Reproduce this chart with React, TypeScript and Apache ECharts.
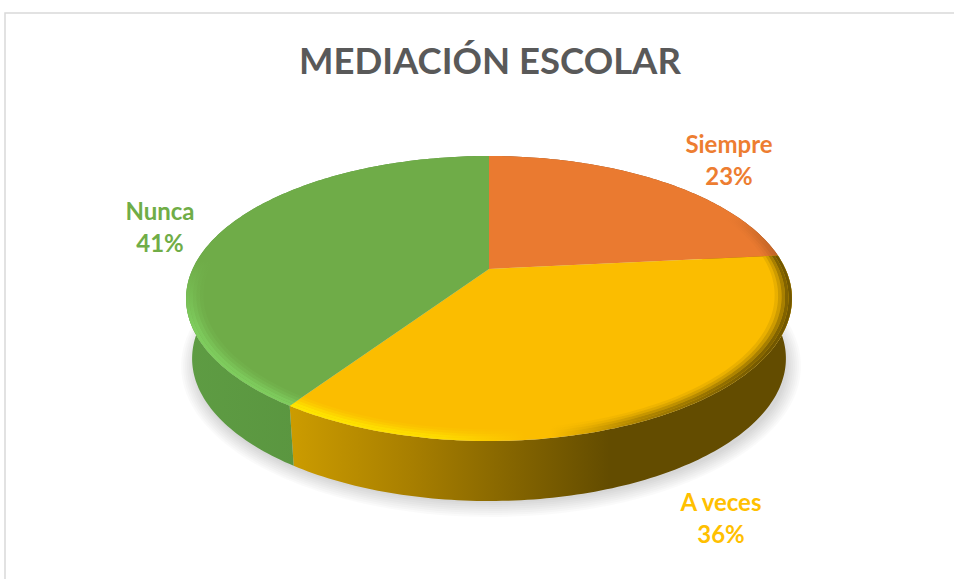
import React, { useEffect, useRef } from "react";
import * as echarts from "echarts";

const TITLE = "MEDIACIÓN ESCOLAR";
const categories = ["Siempre", "A veces", "Nunca"];
// Unrounded estimates read from the slice boundaries; the labels show them rounded.
const percentages = [23.4, 36, 40.6];

const labelColors = ["#ED7D31", "#FFC000", "#70AD47"];
const topColors = ["#EA7A30", "#FBBD00", "#6FAC48"];
const labelCenters = [[729, 159], [721, 517], [160, 226]];

const FONT = "Lato, Carlito, 'Open Sans', sans-serif";
const CX = 489;
const APEX_Y = 269;
const SCALE_X = 296.4;
const SCALE_Y = 136.4;
const PERSPECTIVE = 0.207;
const DEPTH = 60;
const BASE_SHRINK = 0.98;
const BEVEL = [
  [1, 0.989, 0.9],
  [0.989, 0.978, 0.8],
  [0.978, 0.967, 0.55],
  [0.967, 0.956, 0.3],
  [0.956, 0.945, 0.12],
];

function project(r: number, deg: number, base: boolean): number[] {
  const t = (deg * Math.PI) / 180;
  const u = r * Math.sin(t);
  const v = -r * Math.cos(t);
  const w = 1 - PERSPECTIVE * v;
  const sx = base ? BASE_SHRINK : 1;
  return [CX + (SCALE_X * u * sx) / w, APEX_Y + (SCALE_Y * v) / w + (base ? DEPTH : 0)];
}

function arc(r: number, a0: number, a1: number, base: boolean): number[][] {
  const n = Math.max(2, Math.ceil(Math.abs(a1 - a0)));
  const pts: number[][] = [];
  for (let i = 0; i <= n; i++) pts.push(project(r, a0 + ((a1 - a0) * i) / n, base));
  return pts;
}

const grad = (x0: number, y0: number, x1: number, y1: number, stops: [number, string][]) =>
  new echarts.graphic.LinearGradient(x0, y0, x1, y1, stops.map(([offset, color]) => ({ offset, color })));

const wallFill = [
  () => "#8F4A1D",
  () => grad(0, 0, 1, 0, [[0, "#CC9C00"], [0.24, "#A87F00"], [0.637, "#634C00"], [1, "#634C00"]]),
  () => grad(0, 0, 1, 0, [[0, "#5E9C43"], [0.5, "#59943F"], [1, "#4F8537"]]),
];

const bevelFill = [
  (a: number) => grad(0, 0, 1, 0, [[0, "rgba(120,60,20,0)"], [0.85, "rgba(120,60,20,0)"], [1, `rgba(120,60,20,${a * 0.4})`]]),
  (a: number) =>
    grad(0, 0, 1, 0, [
      [0, `rgba(255,236,0,${a})`],
      [0.3, `rgba(255,232,0,${a * 0.8})`],
      [0.47, "rgba(255,232,0,0)"],
      [0.52, "rgba(99,76,0,0)"],
      [0.7, `rgba(99,76,0,${a * 0.6})`],
      [0.95, `rgba(99,76,0,${a})`],
      [1, `rgba(99,76,0,${a})`],
    ]),
  (a: number) => grad(0, 0, 0, 1, [[0, "rgba(128,208,96,0)"], [0.42, "rgba(128,208,96,0)"], [0.68, `rgba(128,208,96,${a})`], [1, `rgba(128,208,96,${a})`]]),
];

let running = 0;
const seriesData = percentages.map((p) => {
  const row = [p, running];
  running += p;
  return row;
});
const total = running;

function renderWalls(params: any, api: any) {
  const i = params.dataIndex;
  const a0 = (api.value(1) / total) * 360;
  const a1 = ((api.value(1) + api.value(0)) / total) * 360;
  const children: any[] = [];
  if (i === 0) {
    for (let s = 0; s < 8; s++) {
      children.push({
        type: "ellipse",
        shape: { cx: CX + 2, cy: 366, rx: 310 - s * 2, ry: 151 - s * 2 },
        style: { fill: "rgba(0,0,0,0.018)" },
      });
    }
  }
  children.push({
    type: "polygon",
    shape: { points: [...arc(1, a0, a1, false), ...arc(1, a1, a0, true)] },
    style: { fill: wallFill[i]() },
  });
  return { type: "group", children };
}

function renderTops(params: any, api: any) {
  const i = params.dataIndex;
  const value = api.value(0);
  const a0 = (api.value(1) / total) * 360;
  const a1 = ((api.value(1) + value) / total) * 360;
  const apex = project(0, 0, false);
  const children: any[] = [
    {
      type: "polygon",
      shape: { points: [apex, ...arc(1, a0, a1, false)] },
      style: { fill: topColors[i] },
    },
  ];
  BEVEL.forEach(([outer, inner, alpha]) => {
    children.push({
      type: "polygon",
      shape: { points: [...arc(outer, a0, a1, false), ...arc(inner, a1, a0, false)] },
      style: { fill: bevelFill[i](alpha) },
    });
  });
  children.push({
    type: "text",
    style: {
      text: `${categories[i]}\n${Math.round((value / total) * 100)}%`,
      x: labelCenters[i][0],
      y: labelCenters[i][1],
      textAlign: "center",
      textVerticalAlign: "middle",
      fontFamily: FONT,
      fontWeight: "bold",
      fontSize: 24,
      lineHeight: 32,
      fill: labelColors[i],
    },
  });
  return { type: "group", children };
}

export default function App() {
  const ref = useRef<HTMLDivElement>(null);
  useEffect(() => {
    const chart = echarts.init(ref.current!, null, { renderer: "svg" });
    chart.setOption({
      animation: false,
      backgroundColor: "#FFFFFF",
      title: {
        text: TITLE,
        left: 294,
        top: 36,
        textStyle: { fontFamily: FONT, fontWeight: "bold", fontSize: 36.5, color: "#595959" },
      },
      graphic: [
        {
          type: "rect",
          shape: { x: 5, y: 13, width: 1000, height: 700 },
          style: { fill: "none", stroke: "#D9D9D9", lineWidth: 1.5 },
          silent: true,
        },
      ],
      series: [
        { type: "custom", coordinateSystem: "none", data: seriesData, renderItem: renderWalls, silent: true, z: 2 },
        { type: "custom", coordinateSystem: "none", data: seriesData, renderItem: renderTops, silent: true, z: 3 },
      ],
    });
    return () => chart.dispose();
  }, []);
  return <div ref={ref} style={{ position: "fixed", left: 0, top: 0, width: 954, height: 579, overflow: "hidden" }} />;
}
